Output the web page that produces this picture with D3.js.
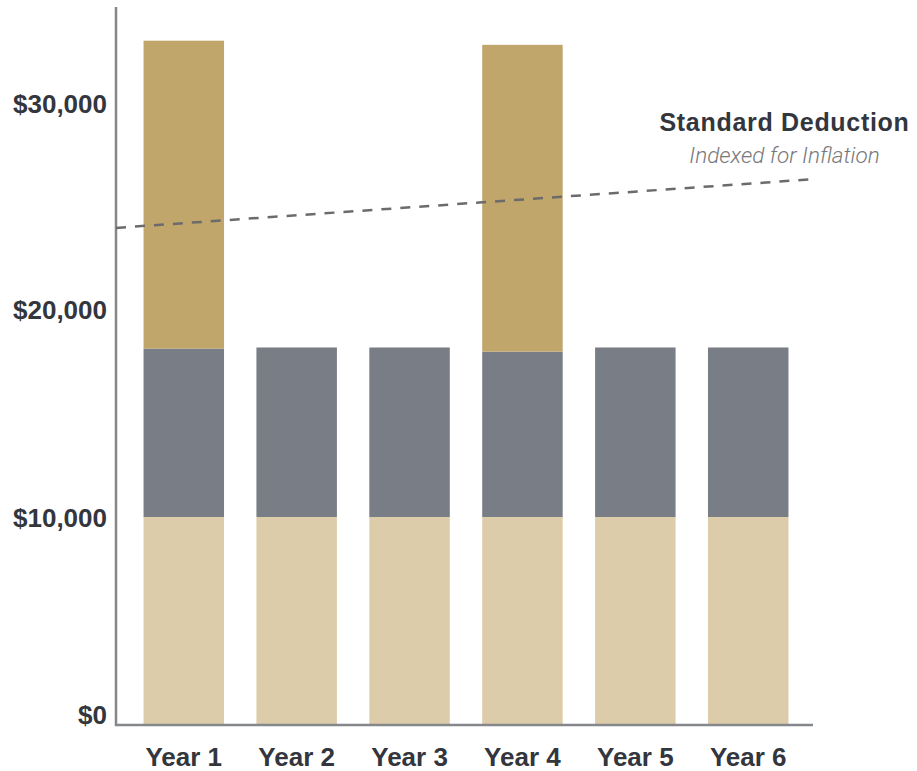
<!DOCTYPE html>
<html>
<head>
<meta charset="utf-8">
<script src="https://cdn.jsdelivr.net/npm/d3@7"></script>
<style>
  html, body { margin: 0; padding: 0; background: #fff; }
  svg { display: block; }
</style>
</head>
<body>
<svg id="chart" width="917" height="771"></svg>
<script>
// ---- data ----
const categories = ["Year 1", "Year 2", "Year 3", "Year 4", "Year 5", "Year 6"];
const baseValues = [10000, 10000, 10000, 10000, 10000, 10000];
const middleValues = [8100, 8150, 8150, 7950, 8150, 8150];
const topValues = [14800, 0, 0, 14750, 0, 0];
const tickValues = [0, 10000, 20000, 30000];
const tickLabels = ["$0", "$10,000", "$20,000", "$30,000"];
const deductionValues = [23900, 26250]; // left edge, right edge
const seriesNames = ["base", "middle", "top"];
const seriesColors = ["#DDCCAA", "#797D85", "#C1A66B"];

// ---- layout ----
const svg = d3.select("#chart");
const left = 116, right = 816, bottom = 725;
const y = d3.scaleLinear().domain([0, 30000]).range([bottom, 101]);
const x = d3.scaleBand().domain(categories).range([left, right])
  .paddingInner(0.287).paddingOuter(0.244);

const rows = categories.map((c, i) => ({
  cat: c, base: baseValues[i], middle: middleValues[i], top: topValues[i]
}));
const stacked = d3.stack().keys(seriesNames)(rows);

svg.append("g").selectAll("g").data(stacked).join("g")
  .attr("fill", (d, i) => seriesColors[i])
  .selectAll("rect").data(d => d.filter(p => p[1] > p[0])).join("rect")
  .attr("x", d => x(d.data.cat))
  .attr("width", x.bandwidth())
  .attr("y", d => y(d[1]))
  .attr("height", d => y(d[0]) - y(d[1]));

// axes lines
const axisColor = "#85878b";
svg.append("line").attr("x1", left).attr("x2", left).attr("y1", 7).attr("y2", bottom + 1)
  .attr("stroke", axisColor).attr("stroke-width", 2.5);
svg.append("line").attr("x1", left - 1).attr("x2", 813).attr("y1", bottom).attr("y2", bottom)
  .attr("stroke", axisColor).attr("stroke-width", 2.5);

// y tick labels
const textColor = "#33363d";
svg.append("g").selectAll("text").data(tickValues).join("text")
  .attr("x", 107)
  .attr("y", d => y(d))
  .attr("dy", d => d === 0 ? "-0.04em" : (d === 30000 ? "0.45em" : "0.38em"))
  .attr("text-anchor", "end")
  .attr("font-family", "'Liberation Sans', Arial, Helvetica, sans-serif")
  .attr("font-weight", "bold")
  .attr("font-size", 26)
  .attr("fill", textColor)
  .text((d, i) => tickLabels[i]);

// x labels
svg.append("g").selectAll("text").data(categories).join("text")
  .attr("x", d => x(d) + x.bandwidth() / 2)
  .attr("y", 766)
  .attr("text-anchor", "middle")
  .attr("font-family", "'Liberation Sans', Arial, Helvetica, sans-serif")
  .attr("font-weight", "bold")
  .attr("font-size", 26)
  .attr("fill", textColor)
  .text(d => d);

// standard deduction line
const xl = d3.scaleLinear().domain([0, 1]).range([left, right]);
svg.append("path")
  .datum(deductionValues)
  .attr("d", d3.line().x((d, i) => xl(i)).y(d => y(d)))
  .attr("fill", "none")
  .attr("stroke", "#6b6b6b")
  .attr("stroke-width", 2.5)
  .attr("stroke-dasharray", "10,9");

// annotation
svg.append("text")
  .attr("x", 784.5).attr("y", 131)
  .attr("text-anchor", "middle")
  .attr("font-family", "'Liberation Sans', Arial, Helvetica, sans-serif")
  .attr("font-weight", "bold")
  .attr("font-size", 25)
  .attr("letter-spacing", "0.7")
  .attr("fill", textColor)
  .text("Standard Deduction");
svg.append("text")
  .attr("x", 784.5).attr("y", 163)
  .attr("text-anchor", "middle")
  .attr("font-family", "Roboto, 'Open Sans', sans-serif")
  .attr("font-weight", 300)
  .attr("font-style", "italic")
  .attr("font-size", 22.5)
  .attr("fill", "#77787b")
  .text("Indexed for Inflation");
</script>
</body>
</html>
